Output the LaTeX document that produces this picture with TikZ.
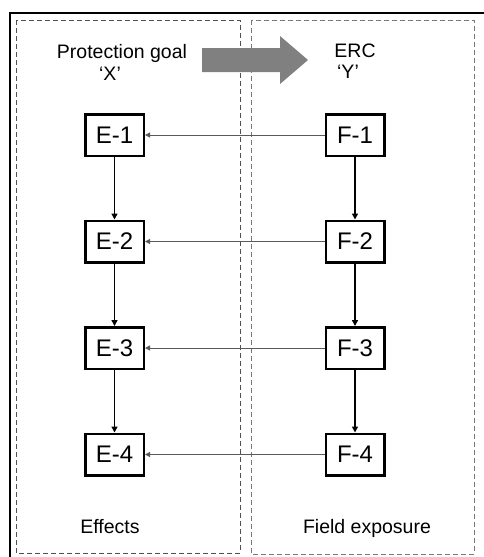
\documentclass[tikz,border=0pt]{standalone}
\usepackage{fontspec}
\setmainfont{Liberation Sans}
\usetikzlibrary{arrows.meta}
\definecolor{bigarrow}{RGB}{128,128,128}
\definecolor{leftdash}{RGB}{80,80,80}
\definecolor{rightdash}{RGB}{120,120,120}
\definecolor{harrowcol}{RGB}{90,90,90}
\begin{document}
\begin{tikzpicture}[x=1pt,y=-1pt,
  stepbox/.style={draw, line width=2.5pt, minimum width=58.5pt, minimum height=41.5pt, inner sep=0pt, font=\fontsize{24}{28}\selectfont},
  lbl/.style={font=\fontsize{19.5}{22}\selectfont, inner sep=0pt, anchor=base},
  harrow/.style={draw=harrowcol, line width=1pt, -{Triangle[length=5pt,width=5pt]}},
  varrow/.style={draw=black, line width=1.5pt, -{Triangle[length=6pt,width=6pt]}},
  dashbox/.style={line width=1pt, dash pattern=on 5pt off 3pt}
]
\useasboundingbox (0,0) rectangle (484,557);
\fill[white] (0,0) rectangle (484,557);
% outer black frame (only top and left visible)
\draw[line width=2pt] (10,560) -- (10,13) -- (490,13);
% dashed panels
\draw[dashbox, draw=leftdash] (16,20) rectangle (240,553);
\draw[dashbox, draw=rightdash] (251,20) rectangle (474,554);
% big grey arrow
\fill[bigarrow] (202,48) -- (280,48) -- (280,36) -- (308,60) -- (280,84) -- (280,72) -- (202,72) -- cycle;
% headings
\node[lbl] (pg) at (122,58) {Protection goal};
\node[lbl] (px) at (110,80) {‘X’};
\node[lbl] (erc) at (355,57) {ERC};
\node[lbl] (ey) at (348,78) {‘Y’};
\node[lbl] (eff) at (110,533) {Effects};
\node[lbl] (fe) at (367,533) {Field exposure};
% boxes
\foreach \i/\y in {1/135,2/241.5,3/348,4/454.5}{
  \node[stepbox] (E\i) at (114.5,\y) {E-\i};
  \node[stepbox] (F\i) at (355,\y) {F-\i};
}
% arrows
\foreach \i in {1,2,3,4}{
  \draw[harrow] (F\i.west) -- (E\i.east);
}
\foreach \i/\j in {1/2,2/3,3/4}{
  \draw[varrow] (E\i.south) -- (E\j.north);
  \draw[varrow] (F\i.south) -- (F\j.north);
}
\end{tikzpicture}
\end{document}
